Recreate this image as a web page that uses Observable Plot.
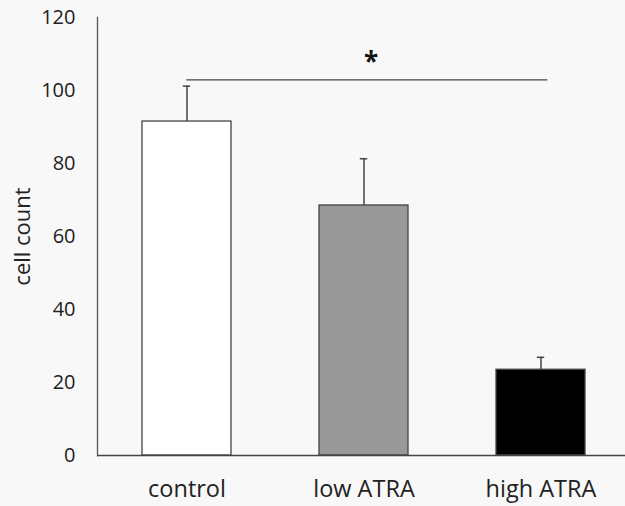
<!DOCTYPE html>
<html><head><meta charset="utf-8">
<script src="https://cdn.jsdelivr.net/npm/d3@7"></script>
<script src="https://cdn.jsdelivr.net/npm/@observablehq/plot@0.6"></script>
<style>
html,body{margin:0;padding:0;background:#f8f8f8;overflow:hidden;}
</style></head>
<body><div id="chart"></div>
<script>
const categories = ["control", "low ATRA", "high ATRA"];
const values = [91.5, 68.5, 23.5];
const errors = [9.7, 12.8, 3.4];
const fills = ["#ffffff", "#999999", "#000000"];
const yTicks = [0, 20, 40, 60, 80, 100, 120];
const sigLevel = 102.9;
const sigLabel = "*";

const data = categories.map((c, i) => ({cat: c, v: values[i], e: values[i] + errors[i], fill: fills[i]}));

const chart = Plot.plot({
  width: 625, height: 506,
  marginTop: 17, marginBottom: 51, marginLeft: 97, marginRight: -4,
  style: {background: "#f8f8f8", fontFamily: "Open Sans", color: "#222"},
  x: {domain: categories, paddingInner: 0.5, paddingOuter: 0.25},
  y: {domain: [0, 120]},
  marks: [
    Plot.axisY({ticks: yTicks, tickSize: 0, tickPadding: 22, fontSize: 20, label: null}),
    Plot.axisX({tickSize: 0, tickPadding: 25, fontSize: 23.5, label: null}),
    Plot.text(["cell count"], {frameAnchor: "left", text: d => d, rotate: -90, dx: -75, textAnchor: "middle", fontSize: 22, fill: "#222"}),
    Plot.frame({anchor: "left", stroke: "#555", strokeWidth: 1.3}),
    Plot.ruleX(data, {x: "cat", y1: "v", y2: "e", stroke: "#444", strokeWidth: 1.5}),
    Plot.tickY(data, {x: "cat", y: "e", stroke: "#444", strokeWidth: 1.5, insetLeft: 40.8, insetRight: 40.8}),
    Plot.barY(data, {x: "cat", y: "v", fill: "fill", stroke: "#444", strokeWidth: 1.3}),
    Plot.ruleY([0], {stroke: "#444", strokeWidth: 1.3}),
    Plot.ruleY([sigLevel], {x1: () => categories[0], x2: () => categories[2], insetLeft: 44.3, insetRight: 37.7, stroke: "#444", strokeWidth: 1.3}),
    Plot.text([sigLabel], {x: () => categories[1], y: sigLevel, text: d => d, dy: -17, dx: 7, fontSize: 26, fontWeight: "bold", fill: "#111"})
  ]
});
document.getElementById("chart").append(chart);
</script></body></html>
